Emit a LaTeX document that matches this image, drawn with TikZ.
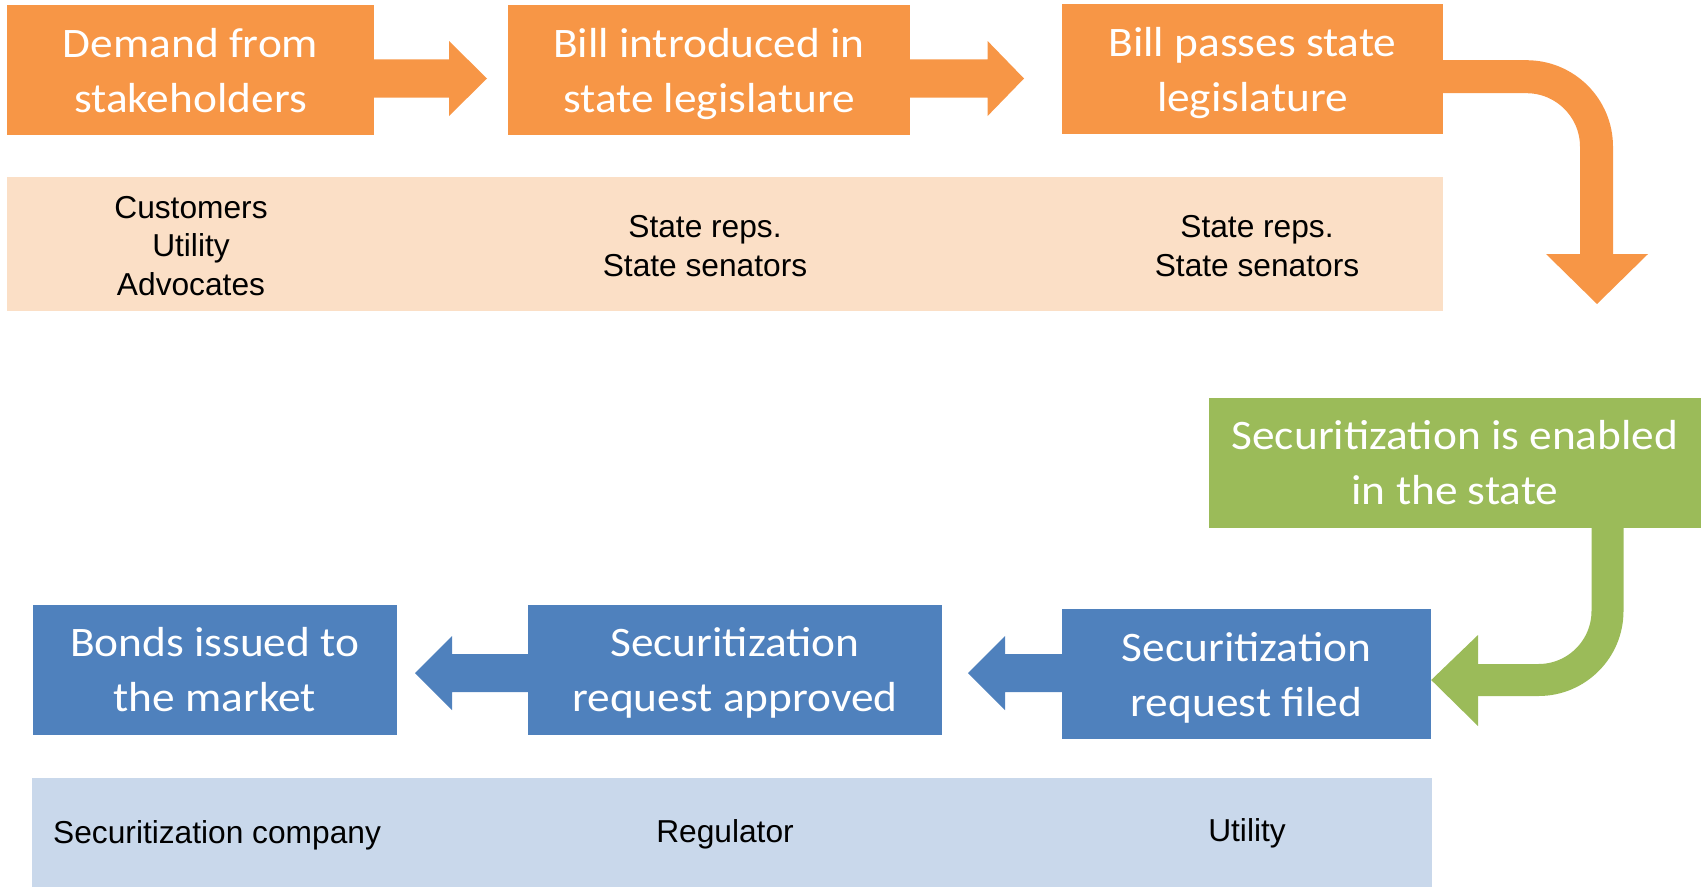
\documentclass[tikz,border=0pt]{standalone}
\usepackage{fontspec}
\newfontfamily\boxfont[FakeStretch=1.08]{Carlito}
\newfontfamily\lblfont{Liberation Sans}
\definecolor{ora}{HTML}{F79646}
\definecolor{peach}{HTML}{FBDFC6}
\definecolor{grn}{HTML}{9BBB59}
\definecolor{blu}{HTML}{4F81BD}
\definecolor{lblu}{HTML}{C9D8EB}
\tikzset{
  boxtxt/.style={inner sep=0pt, align=center, text depth=0pt, text=white, font=\boxfont\fontsize{42}{55}\selectfont},
  obox/.style={boxtxt, fill=ora},
  gbox/.style={boxtxt, fill=grn},
  bbox/.style={boxtxt, fill=blu},
  lbl/.style={inner sep=0pt, align=center, text=black, font=\lblfont\fontsize{31.7}{38.5}\selectfont},
}
\begin{document}
\begin{tikzpicture}[x=1pt,y=-1pt]
\useasboundingbox (0,0) rectangle (1701,887);
% bars
\node[fill=peach, minimum width=1436pt, minimum height=134pt, inner sep=0pt] (pbar) at (725,244) {};
\node[fill=lblu, minimum width=1400pt, minimum height=109pt, inner sep=0pt] (bbar) at (732.25,832.5) {};
% orange boxes
\node[obox, minimum width=367pt, minimum height=129.5pt] (o1) at (190.5,70) {Demand from\\stakeholders};
\node[obox, minimum width=402pt, minimum height=129.5pt] (o2) at (709,70) {Bill introduced in\\state legislature};
\node[obox, minimum width=381pt, minimum height=130pt] (o3) at (1252.5,69) {Bill passes state\\legislature};
% green box
\node[gbox, minimum width=492pt, minimum height=129.5pt] (g) at (1455,462.75) {Securitization is enabled\\in the state};
% blue boxes
\node[bbox, minimum width=369pt, minimum height=130pt] (b3) at (1246.5,674) {Securitization\\request filed};
\node[bbox, minimum width=414pt, minimum height=129.5pt] (b2) at (735,669.75) {Securitization\\request approved};
\node[bbox, minimum width=364.5pt, minimum height=129.5pt] (b1) at (214.75,669.75) {Bonds issued to\\the market};
% labels
\node[lbl] (l1) at (191,246) {Customers\\Utility\\Advocates};
\node[lbl] (l2) at (705,246) {State reps.\\State senators};
\node[lbl] (l3) at (1257,246) {State reps.\\State senators};
\node[lbl, anchor=west] (l4) at (53,835.3) {Securitization company};
\node[lbl] (l5) at (725,834.3) {Regulator};
\node[lbl] (l6) at (1247,833.3) {Utility};
% orange straight arrows
\fill[ora] (o1.east |- 0,59.3) -- (449,59.3) -- (449,41) -- (487,78.5) -- (449,116) -- (449,97.7) -- (o1.east |- 0,97.7) -- cycle;
\fill[ora] (o2.east |- 0,59.3) -- (987.6,59.3) -- (987.6,41) -- (1024,78.5) -- (987.6,116) -- (987.6,97.7) -- (o2.east |- 0,97.7) -- cycle;
% orange curved arrow
\coordinate (ohead) at (1596.5,254);
\draw[ora, line width=33pt, rounded corners=70pt] (o3.east |- 0,76.7) -- (1596.5,76.7) -- (ohead);
\fill[ora] (1546,254) -- (1648,254) -- (1597,304) -- cycle;
% green curved arrow
\coordinate (gx) at (1607.5,0);
\coordinate (ghead) at (1478,680);
\draw[grn, line width=32pt, rounded corners=69pt] (g.south -| gx) -- (1607.5,680) -- (ghead);
\fill[grn] (1478,635) -- (1478,726) -- (b3.east |- 0,680) -- cycle;
% blue arrows
\fill[blu] (b3.west |- 0,654) -- (1005,654) -- (1005,636) -- (968,673) -- (1005,710) -- (1005,692) -- (b3.west |- 0,692) -- cycle;
\fill[blu] (b2.west |- 0,654) -- (452,654) -- (452,636) -- (415,673) -- (452,710) -- (452,692) -- (b2.west |- 0,692) -- cycle;
\end{tikzpicture}
\end{document}
